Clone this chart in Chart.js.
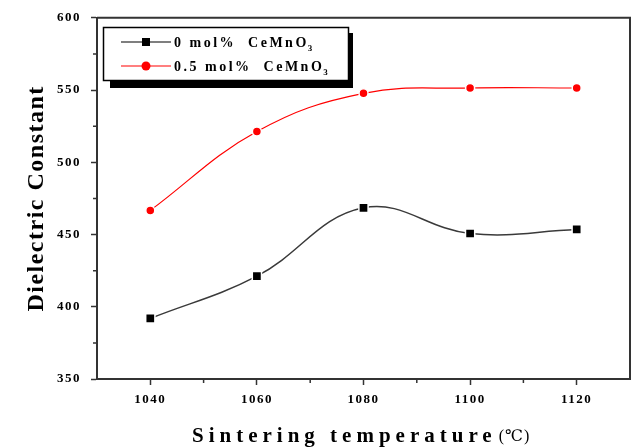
<!DOCTYPE html>
<html>
<head>
<meta charset="utf-8">
<script src="https://cdn.jsdelivr.net/npm/chart.js@4.4.1/dist/chart.umd.min.js"></script>
<style>
	html, body { margin: 0; padding: 0; background: #fff; }
	#wrap { width: 638px; height: 447px; position: relative; }
</style>
</head>
<body>
<div id="wrap"><canvas id="chart"></canvas></div>
<script>
// Data
const TEMPS = [1040, 1060, 1080, 1100, 1120];
const PURE = [391.9, 421.2, 468.5, 450.7, 453.5];
const DOPED = [466.7, 521.3, 547.7, 551.4, 551.4];
const X_TICKS = [1040, 1060, 1080, 1100, 1120];
const Y_TICKS = [350, 400, 450, 500, 550, 600];
const SERIES_NAMES = ["0 mol%  CeMnO", "0.5 mol%  CeMnO"];

const SERIF = "'Liberation Serif', 'DejaVu Serif', serif";
const AXIS_COLOR = "#333";

const toPoints = (xs, ys) => xs.map((x, i) => ({ x: x, y: ys[i] }));

// Minor ticks, frame, legend and axis titles
const decorations = {
	id: "decorations",
	beforeDraw(chart) {
		chart.ctx.letterSpacing = "1.5px";
	},
	afterDraw(chart) {
		const ctx = chart.ctx;
		const { left, right, top, bottom } = chart.chartArea;
		const xs = chart.scales.x;
		const ys = chart.scales.y;
		ctx.save();
		ctx.letterSpacing = "0px";

		// frame top / right
		ctx.strokeStyle = AXIS_COLOR;
		ctx.lineWidth = 2;
		ctx.beginPath();
		ctx.moveTo(left, top);
		ctx.lineTo(right, top);
		ctx.lineTo(right, bottom);
		ctx.stroke();

		// minor ticks
		ctx.lineWidth = 1.5;
		ctx.beginPath();
		for (let v = 1050; v < 1130; v += 20) {
			const px = xs.getPixelForValue(v);
			ctx.moveTo(px, bottom);
			ctx.lineTo(px, bottom + 4);
		}
		for (let v = 375; v < 600; v += 50) {
			const py = ys.getPixelForValue(v);
			ctx.moveTo(left, py);
			ctx.lineTo(left - 4, py);
		}
		ctx.stroke();

		// legend with drop shadow
		ctx.fillStyle = "#000";
		ctx.fillRect(110, 80, 243, 8);
		ctx.fillRect(347, 33, 6, 55);
		ctx.fillStyle = "#fff";
		ctx.fillRect(103.5, 27.5, 245, 53);
		ctx.strokeStyle = "#000";
		ctx.lineWidth = 1.5;
		ctx.strokeRect(103.5, 27.5, 245, 53);

		const rows = [
			{ y: 42, color: "#000", shape: "rect" },
			{ y: 66, color: "#ff0000", shape: "circle" },
		];
		rows.forEach((row, i) => {
			ctx.strokeStyle = row.color;
			ctx.lineWidth = 1.2;
			ctx.beginPath();
			ctx.moveTo(121, row.y);
			ctx.lineTo(171, row.y);
			ctx.stroke();
			ctx.fillStyle = row.color;
			if (row.shape === "rect") {
				ctx.fillRect(142, row.y - 4, 8, 8);
			} else {
				ctx.beginPath();
				ctx.arc(146, row.y, 4.5, 0, Math.PI * 2);
				ctx.fill();
			}
			ctx.fillStyle = "#000";
			ctx.font = "bold 14px " + SERIF;
			ctx.letterSpacing = "2.5px";
			ctx.textAlign = "left";
			ctx.textBaseline = "alphabetic";
			ctx.fillText(SERIES_NAMES[i], 174, row.y + 5);
			const w = ctx.measureText(SERIES_NAMES[i]).width;
			ctx.font = "bold 9px " + SERIF;
			ctx.letterSpacing = "0px";
			ctx.fillText("3", 174 + w - 1, row.y + 9);
		});

		// y title
		ctx.save();
		ctx.translate(37, (top + bottom) / 2);
		ctx.rotate(-Math.PI / 2);
		ctx.font = "bold 24px " + SERIF;
		ctx.letterSpacing = "1.5px";
		ctx.textAlign = "center";
		ctx.textBaseline = "middle";
		ctx.fillStyle = "#000";
		ctx.fillText("Dielectric Constant", 0, 0);
		ctx.restore();

		// x title
		ctx.font = "bold 21px " + SERIF;
		ctx.letterSpacing = "5px";
		ctx.textAlign = "left";
		ctx.textBaseline = "alphabetic";
		ctx.fillStyle = "#000";
		const main = "Sintering temperature";
		ctx.fillText(main, 192, 442);
		const mw = ctx.measureText(main).width;
		ctx.font = "16px " + SERIF;
		ctx.letterSpacing = "1px";
		ctx.fillText("(\u2103)", 192 + mw + 2, 441);

		ctx.restore();
		ctx.letterSpacing = "0px";
	},
};

const CHART_DATA = {
	datasets: [
		{
			label: "0 mol% CeMnO3",
			data: toPoints(TEMPS, PURE),
			borderColor: "#3a3a3a",
			borderWidth: 1.5,
			tension: 0.4,
			pointStyle: "rect",
			pointRadius: 6.5,
			pointBackgroundColor: "#000",
			pointBorderColor: "#fff",
			pointBorderWidth: 1.5,
		},
		{
			label: "0.5 mol% CeMnO3",
			data: toPoints(TEMPS, DOPED),
			borderColor: "#ff0000",
			borderWidth: 1.2,
			tension: 0.4,
			pointStyle: "circle",
			pointRadius: 4.5,
			pointBackgroundColor: "#ff0000",
			pointBorderColor: "#fff",
			pointBorderWidth: 1.5,
		},
	],
};

const CHART_CONFIG = {
	type: "line",
	data: CHART_DATA,
	options: {
		responsive: true,
		maintainAspectRatio: false,
		animation: false,
		events: [],
		layout: {
			padding: { top: 17, right: 3, left: 0, bottom: 0 },
		},
		scales: {
			x: {
				type: "linear",
				min: 1030,
				max: 1130,
				afterBuildTicks: (scale) => {
					scale.ticks = X_TICKS.map((v) => ({ value: v }));
				},
				afterFit: (scale) => {
					scale.height = 68;
				},
				border: { display: true, color: AXIS_COLOR, width: 2 },
				grid: {
					drawOnChartArea: false,
					drawTicks: true,
					tickLength: 6,
					tickWidth: 1.5,
					tickColor: AXIS_COLOR,
				},
				ticks: {
					color: "#000",
					padding: 7,
					maxRotation: 0,
					font: { family: SERIF, size: 13, weight: "bold" },
					callback: (value) => String(value),
				},
			},
			y: {
				min: 350,
				max: 600,
				afterBuildTicks: (scale) => {
					scale.ticks = Y_TICKS.map((v) => ({ value: v }));
				},
				afterFit: (scale) => {
					scale.width = 97;
				},
				border: { display: true, color: AXIS_COLOR, width: 2 },
				grid: {
					drawOnChartArea: false,
					drawTicks: true,
					tickLength: 6,
					tickWidth: 1.5,
					tickColor: AXIS_COLOR,
				},
				ticks: {
					color: "#000",
					padding: 10,
					font: { family: SERIF, size: 13, weight: "bold" },
					callback: (value) => String(value),
				},
			},
		},
		plugins: {
			legend: { display: false },
			tooltip: { enabled: false },
		},
	},
	plugins: [decorations],
};

new Chart(document.getElementById("chart"), CHART_CONFIG);
</script>
</body>
</html>
